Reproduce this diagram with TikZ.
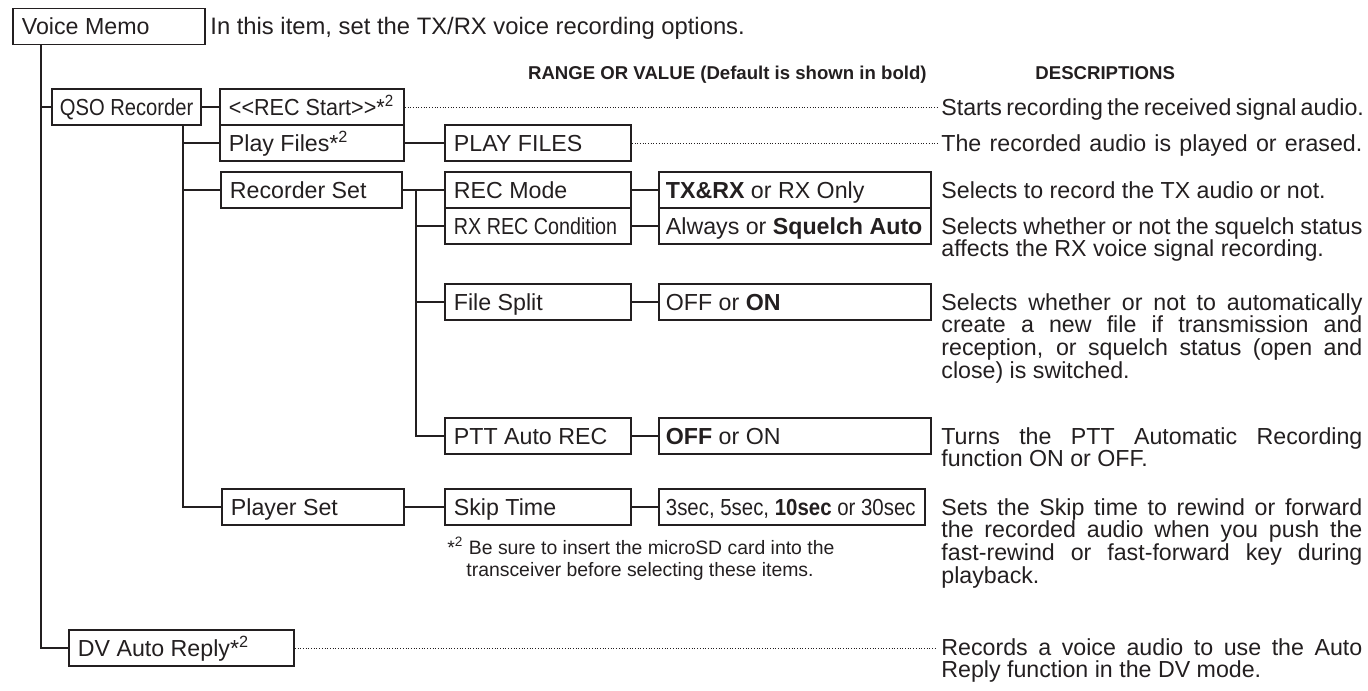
\documentclass[tikz,border=0pt]{standalone}
\usepackage{fontspec}
\setmainfont{Liberation Sans}
\usepackage{graphicx}
\definecolor{ink}{HTML}{231F20}
\newcommand{\fm}{\fontsize{11.6}{11.4}\selectfont}
\newcommand{\fbig}{\fontsize{11.9}{12}\selectfont}
\newcommand{\fsm}{\fontsize{9.7}{11}\selectfont}
\newcommand{\fh}{\fontsize{9.3}{10}\selectfont\bfseries}
\newcommand{\stwo}{*\textsuperscript{2}}
\newcommand{\jl}[1]{\makebox[210.5pt][s]{\spaceskip=0pt\xspaceskip=0pt #1}}
\begin{document}
\begin{tikzpicture}[x=0.5pt, y=-0.5pt,
  every node/.style={text=ink, font=\fm},
  mbox/.style={draw=ink, line width=0.9pt, anchor=west, minimum height=18pt,
    inner xsep=4.5pt, inner ysep=0pt, text height=8.3pt, text depth=0pt,
    align=flush left, text width=#1},
  vbox/.style={mbox={#1}, inner xsep=3.5pt},
  desc/.style={anchor=base west, inner sep=0pt, align=flush left, text width=212pt},
  plain/.style={anchor=base west, inner sep=0pt},
  conn/.style={draw=ink, line width=0.9pt},
  leader/.style={draw=ink, line width=0.45pt, dash pattern=on 0.45pt off 0.9pt}]
\useasboundingbox (0,0) rectangle (1368,690);

% top
\node[mbox=87pt] (vm) at (12,26.5) {Voice Memo};
\node[plain, font=\fbig] (intro) at (210,35) {In this item, set the TX/RX voice recording options.};
\node[anchor=base east, inner sep=0pt, font=\fh] (hrange) at (927,80) {RANGE OR VALUE (Default is shown in bold)};
\node[plain, font=\fh] (hdesc) at (1035,80) {DESCRIPTIONS};

% level 1
\node[mbox=70pt, inner xsep=2.25pt] (qso) at (51,107) {\hspace*{1.75pt}\scalebox{0.87}[1]{QSO Recorder}};
\node[mbox=103.5pt] (dv) at (68,648) {DV Auto Reply\stwo};

% level 2
\node[mbox=83pt] (rec) at (219,107) {\scalebox{0.93}[1]{\textless\kern0pt\textless REC Start\textgreater\kern0pt\textgreater\stwo}};
\node[mbox=83pt] (play) at (219,143) {Play Files\stwo};
\node[mbox=81.5pt] (recset) at (220,190) {Recorder Set};
\node[mbox=82pt] (pset) at (221,507) {Player Set};

% level 3
\node[mbox=84pt] (pfiles) at (444,143) {PLAY FILES};
\node[mbox=84pt] (rmode) at (444,190) {REC Mode};
\node[mbox=84pt] (rxrec) at (444,226) {\scalebox{0.85}[1]{RX REC Condition}};
\node[mbox=84pt] (fsplit) at (444,302) {File Split};
\node[mbox=84pt] (ptt) at (444,436) {PTT Auto REC};
\node[mbox=84pt] (skip) at (444,507) {Skip Time};

% values
\node[vbox=129pt] (v1) at (658,190) {\textbf{TX\&RX} or RX Only};
\node[vbox=129pt] (v2) at (658,226) {\mbox{Always or \textbf{Squelch Auto}}};
\node[vbox=129pt] (v3) at (658,302) {OFF or \textbf{ON}};
\node[vbox=129pt] (v4) at (658,436) {\textbf{OFF} or ON};
\node[vbox=126pt] (v5) at (658,507) {\scalebox{0.88}[1]{3sec, 5sec, \textbf{10sec} or 30sec}};

% descriptions
\node[desc] (d1) at (941,115) {\jl{Starts recording the received signal audio.}};
\node[desc] (d2) at (941,151) {\jl{The recorded audio is played or erased.}};
\node[desc] (d3) at (941,198) {Selects to record the TX audio or not.};
\node[desc] (d4) at (941,234) {\jl{Selects whether or not the squelch status}\\affects the RX voice signal recording.};
\node[desc] (d5) at (941,310) {\jl{Selects whether or not to automatically}\\\jl{create a new file if transmission and}\\\jl{reception, or squelch status (open and}\\close) is switched.};
\node[desc] (d6) at (941,444) {\jl{Turns the PTT Automatic Recording}\\function ON or OFF.};
\node[desc] (d7) at (941,515) {\jl{Sets the Skip time to rewind or forward}\\\jl{the recorded audio when you push the}\\\jl{fast-rewind or fast-forward key during}\\playback.};
\node[desc] (d8) at (941,655) {\jl{Records a voice audio to use the Auto}\\Reply function in the DV mode.};

% footnote
\node[plain, font=\fsm] (fn1) at (447,554) {*\textsuperscript{2} Be sure to insert the microSD card into the};
\node[plain, font=\fsm] (fn2) at (466,576) {transceiver before selecting these items.};

% connectors
\coordinate (t1) at ([xshift=14.5pt]vm.south west);
\draw[conn] (t1) |- (dv.west);
\draw[conn] (t1 |- qso.west) -- (qso.west);
\draw[conn] (qso.east) -- (rec.west);
\coordinate (t2) at ([xshift=66pt]qso.south west);
\draw[conn] (t2) |- (pset.west);
\draw[conn] (t2 |- play.west) -- (play.west);
\draw[conn] (t2 |- recset.west) -- (recset.west);
\draw[conn] (play.east) -- (pfiles.west);
\draw[conn] (recset.east) -- (rmode.west);
\coordinate (t3) at ([xshift=6.5pt]recset.east);
\draw[conn] (t3) |- (ptt.west);
\draw[conn] (t3 |- rxrec.west) -- (rxrec.west);
\draw[conn] (t3 |- fsplit.west) -- (fsplit.west);
\draw[conn] (rmode.east) -- (v1.west);
\draw[conn] (rxrec.east) -- (v2.west);
\draw[conn] (fsplit.east) -- (v3.west);
\draw[conn] (ptt.east) -- (v4.west);
\draw[conn] (pset.east) -- (skip.west);
\draw[conn] (skip.east) -- (v5.west);

% leaders
\draw[leader] (rec.east) -- ([xshift=-2pt]rec.east -| d1.west);
\draw[leader] (pfiles.east) -- ([xshift=-2pt]pfiles.east -| d2.west);
\draw[leader] (dv.east) -- ([xshift=-2pt]dv.east -| d8.west);
\end{tikzpicture}
\end{document}
